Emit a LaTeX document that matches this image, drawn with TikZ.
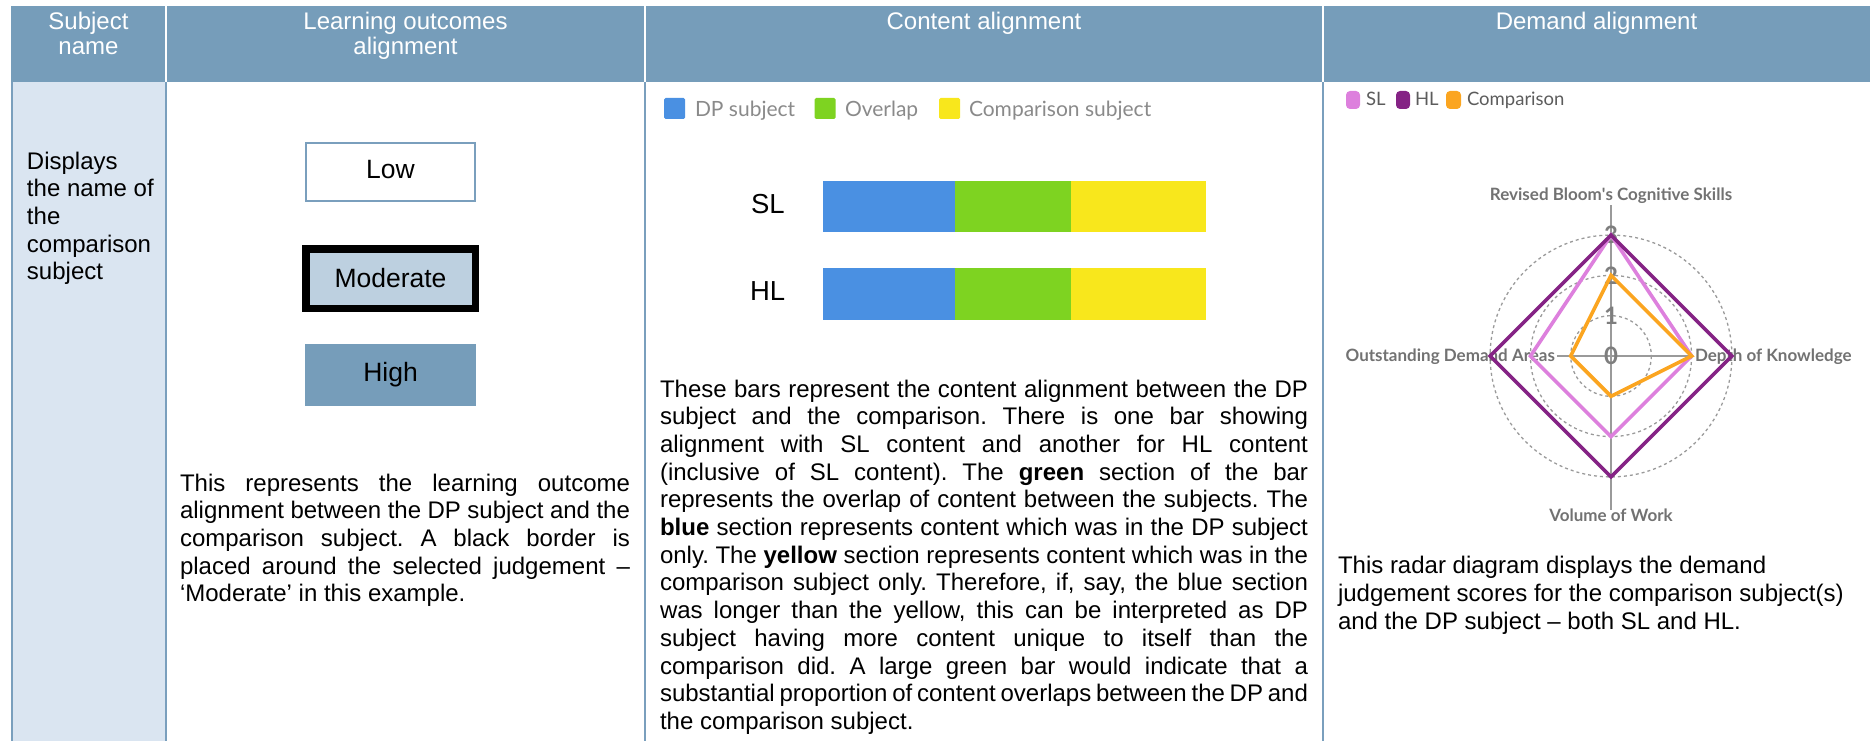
\documentclass[tikz,border=0pt]{standalone}
\usepackage{fontspec}
\setmainfont{Liberation Sans}
\newfontfamily\lato{Lato}
\usetikzlibrary{calc}

\definecolor{hdr}{HTML}{769DBA}
\definecolor{rulecol}{HTML}{7A9FBD}
\definecolor{pale}{HTML}{DAE5F1}
\definecolor{modfill}{HTML}{BDD0E0}
\definecolor{dpblue}{HTML}{4A90E2}
\definecolor{ovgreen}{HTML}{7ED321}
\definecolor{cmpyellow}{HTML}{F8E71C}
\definecolor{leggray}{HTML}{8A8A8A}
\definecolor{legdark}{HTML}{5C5C5C}
\definecolor{slpink}{HTML}{DD80DD}
\definecolor{hlpurple}{HTML}{852385}
\definecolor{cmporange}{HTML}{FBA520}
\definecolor{gridgray}{HTML}{9A9A9A}
\definecolor{tickgray}{HTML}{7E7E7E}
\definecolor{labgray}{HTML}{727272}

\newcommand{\bodyfont}{\fontsize{24}{27.7}\selectfont\frenchspacing}
\newcommand{\jline}[2]{\makebox[#1][s]{#2}}
\newcommand{\topstrut}{\rule{0pt}{20pt}}

\begin{document}
\begin{tikzpicture}[x=1pt,y=-1pt,
  every node/.style={inner sep=0pt,outer sep=0pt},
  hdrtext/.style={text=white,font=\fontsize{24}{25.5}\selectfont,align=center,anchor=north},
  bodytext/.style={font=\bodyfont,align=left,anchor=north west},
  boxlabel/.style={font=\fontsize{26.5}{30}\selectfont,anchor=base},
  barlabel/.style={font=\fontsize{27.5}{30}\selectfont,anchor=base west},
  legsq/.style={minimum width=21,minimum height=21,rounded corners=1.5},
  legtxt/.style={font=\lato\fontsize{21}{24}\selectfont,text=leggray,anchor=base west},
  radsq/.style={minimum width=14,minimum height=18,rounded corners=4},
  radtxt/.style={font=\lato\fontsize{18.5}{21}\selectfont,text=legdark,anchor=base west},
  axislab/.style={font=\lato\bfseries\fontsize{17}{20}\selectfont,text=labgray},
  ticklab/.style={font=\lato\bfseries\fontsize{24}{27}\selectfont,text=tickgray,anchor=center},
  series/.style={line width=3.6,line join=miter}]

\useasboundingbox (0,0) rectangle (1870,741);

% table frame: header band, shaded first column, column rules
\begin{scope}
  \clip (0,0) rectangle (1870,741);
  \fill[hdr] (11,6) rectangle (1870,82);
  \fill[pale] (11,82) rectangle (166,741);
  \foreach \x in {12,166,645,1323}
    \draw[rulecol,line width=2] (\x,82) -- (\x,741);
  \foreach \x in {166,645,1323}
    \draw[white,line width=2] (\x,6) -- (\x,82);
\end{scope}

% header captions
\node[hdrtext] (hsubj) at (88.5,9.5) {\topstrut Subject\\name};
\node[hdrtext] (hlo) at (405.5,9.5) {\topstrut Learning outcomes\\alignment};
\node[hdrtext] (hcont) at (984,9.5) {\topstrut Content alignment};
\node[hdrtext] (hdem) at (1596.5,9.5) {\topstrut Demand alignment};

% column 1
\node[bodytext] (subjname) at (27,149)
  {\topstrut Displays\\the name of\\the\\comparison\\subject};

% column 2: judgement scale
\node[draw=rulecol,line width=2,fill=white,minimum width=169,minimum height=58] (lowbox) at (390.5,172) {};
\node[draw=black,line width=7.5,fill=modfill,minimum width=169.5,minimum height=59.5] (modbox) at (390.5,278.5) {};
\node[fill=hdr,minimum width=171,minimum height=62] (highbox) at (390.5,375) {};
\node[boxlabel] (lowlbl) at (390.5,178) {Low};
\node[boxlabel] (modlbl) at (390.5,287) {Moderate};
\node[boxlabel] (highlbl) at (390.5,381) {High};

\node[bodytext] (lodesc) at (180,471) {%
\topstrut\jline{450pt}{This represents the learning outcome}\\
\jline{450pt}{alignment between the DP subject and the}\\
\jline{450pt}{comparison subject. A black border is}\\
\jline{450pt}{placed around the selected judgement –}\\
‘Moderate’ in this example.};

% column 3: legend
\node[legsq,fill=dpblue] (kdp) at (674.5,108.5) {};
\node[legtxt] (kdptxt) at (695,117) {DP subject};
\node[legsq,fill=ovgreen] (kov) at (825,108.5) {};
\node[legtxt] (kovtxt) at (845,117) {Overlap};
\node[legsq,fill=cmpyellow] (kcmp) at (949.5,108.5) {};
\node[legtxt] (kcmptxt) at (969,117) {Comparison subject};

% column 3: stacked bars
\node[barlabel] (sllbl) at (751,213) {SL};
\node[barlabel] (hllbl) at (750,300) {HL};
\fill[dpblue] (823,181) rectangle (955,232);
\fill[ovgreen] (955,181) rectangle (1071,232);
\fill[cmpyellow] (1071,181) rectangle (1206,232);
\fill[dpblue] (823,268) rectangle (955,320);
\fill[ovgreen] (955,268) rectangle (1071,320);
\fill[cmpyellow] (1071,268) rectangle (1206,320);

\node[bodytext] (contdesc) at (660,377) {%
\topstrut\jline{648pt}{These bars represent the content alignment between the DP}\\
\jline{648pt}{subject and the comparison. There is one bar showing}\\
\jline{648pt}{alignment with SL content and another for HL content}\\
\jline{648pt}{(inclusive of SL content). The \textbf{green} section of the bar}\\
\jline{648pt}{represents the overlap of content between the subjects. The}\\
\jline{648pt}{\textbf{blue} section represents content which was in the DP subject}\\
\jline{648pt}{only. The \textbf{yellow} section represents content which was in the}\\
\jline{648pt}{comparison subject only. Therefore, if, say, the blue section}\\
\jline{648pt}{was longer than the yellow, this can be interpreted as DP}\\
\jline{648pt}{subject having more content unique to itself than the}\\
\jline{648pt}{comparison did. A large green bar would indicate that a}\\
\jline{648pt}{substantial proportion of content overlaps between the DP and}\\
the comparison subject.};

% column 4: legend
\node[radsq,fill=slpink] (ksl) at (1353,100) {};
\node[radtxt] (ksltxt) at (1366,106) {SL};
\node[radsq,fill=hlpurple] (khl) at (1403,100) {};
\node[radtxt] (khltxt) at (1415,106) {HL};
\node[radsq,fill=cmporange,minimum width=15] (kco) at (1453.5,100) {};
\node[radtxt] (kcotxt) at (1467,106) {Comparison};

% column 4: radar chart
\coordinate (C) at (1611,356);
\foreach \r in {1,2,3}
  \draw[gridgray,line width=1.3,dash pattern=on 3pt off 3pt] (C) circle ({\r*40.3});
\draw[gridgray,line width=1.5] (1611,205) -- (1611,510);
\draw[gridgray,line width=1.5] (1557,356) -- (1693,356);
\foreach \k in {0,1,2,3}
  \node[ticklab] (tick\k) at ($(C)+(0,-\k*40.3)$) {\k};
\node[axislab,anchor=base] (axtop) at (1611,200.7) {Revised Bloom\textquotesingle s Cognitive Skills};
\node[axislab,anchor=base west] (axright) at (1695,361.7) {Depth of Knowledge};
\node[axislab,anchor=base east] (axleft) at (1555,361.7) {Outstanding Demand Areas};
\node[axislab,anchor=base] (axbottom) at (1611,521.7) {Volume of Work};

\draw[series,slpink] ($(C)+(0,-120.9)$) -- ($(C)+(80.6,0)$) -- ($(C)+(0,80.6)$) -- ($(C)+(-80.6,0)$) -- cycle;
\draw[series,hlpurple] ($(C)+(0,-120.9)$) -- ($(C)+(120.9,0)$) -- ($(C)+(0,120.9)$) -- ($(C)+(-120.9,0)$) -- cycle;
\draw[series,cmporange] ($(C)+(0,-80.6)$) -- ($(C)+(80.6,0)$) -- ($(C)+(0,40.3)$) -- ($(C)+(-40.3,0)$) -- cycle;

\node[bodytext,font=\fontsize{24}{28}\selectfont] (demdesc) at (1338,553)
  {\topstrut This radar diagram displays the demand\\
   judgement scores for the comparison subject(s)\\
   and the DP subject – both SL and HL.};
\end{tikzpicture}
\end{document}
